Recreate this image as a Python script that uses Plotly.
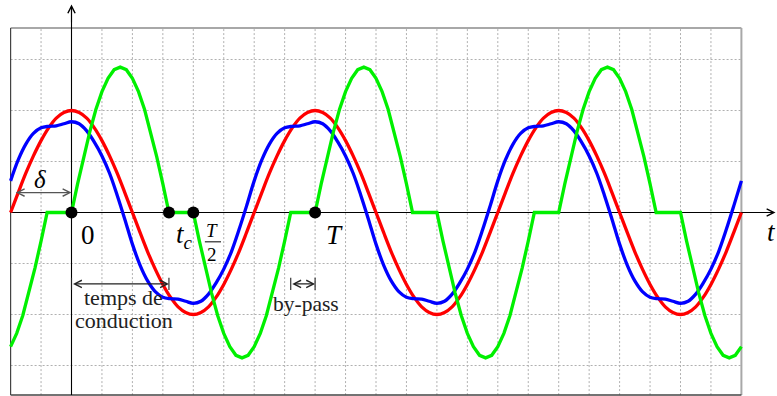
import plotly.graph_objects as go

# time in grid steps (one step = T/8), values in grid units
T_RB = [-2.0, -1.75, -1.5, -1.25, -1.0, -0.75, -0.5, -0.25,
        0.0, 0.25, 0.5, 0.75, 1.0, 1.25, 1.5, 1.75,
        2.0, 2.25, 2.5, 2.75, 3.0, 3.25, 3.5, 3.75,
        4.0, 4.25, 4.5, 4.75, 5.0, 5.25, 5.5, 5.75,
        6.0, 6.25, 6.5, 6.75, 7.0, 7.25, 7.5, 7.75,
        8.0, 8.25, 8.5, 8.75, 9.0, 9.25, 9.5, 9.75,
        10.0, 10.25, 10.5, 10.75, 11.0, 11.25, 11.5, 11.75,
        12.0, 12.25, 12.5, 12.75, 13.0, 13.25, 13.5, 13.75,
        14.0, 14.25, 14.5, 14.75, 15.0, 15.25, 15.5, 15.75,
        16.0, 16.25, 16.5, 16.75, 17.0, 17.25, 17.5, 17.75,
        18.0, 18.25, 18.5, 18.75, 19.0, 19.25, 19.5, 19.75,
        20.0, 20.25, 20.5, 20.75, 21.0, 21.25, 21.5, 21.75,
        22.0]

# red : source voltage
RED = [0.0, 0.39, 0.77, 1.11, 1.41, 1.66, 1.85, 1.96,
       2.0, 1.96, 1.85, 1.66, 1.41, 1.11, 0.77, 0.39,
       0.0, -0.39, -0.77, -1.11, -1.41, -1.66, -1.85, -1.96,
       -2.0, -1.96, -1.85, -1.66, -1.41, -1.11, -0.77, -0.39,
       0.0, 0.39, 0.77, 1.11, 1.41, 1.66, 1.85, 1.96,
       2.0, 1.96, 1.85, 1.66, 1.41, 1.11, 0.77, 0.39,
       0.0, -0.39, -0.77, -1.11, -1.41, -1.66, -1.85, -1.96,
       -2.0, -1.96, -1.85, -1.66, -1.41, -1.11, -0.77, -0.39,
       0.0, 0.39, 0.77, 1.11, 1.41, 1.66, 1.85, 1.96,
       2.0, 1.96, 1.85, 1.66, 1.41, 1.11, 0.77, 0.39,
       0.0, -0.39, -0.77, -1.11, -1.41, -1.66, -1.85, -1.96,
       -2.0, -1.96, -1.85, -1.66, -1.41, -1.11, -0.77, -0.39,
       0.0]

# blue : distorted voltage
BLUE = [0.62, 1.03, 1.34, 1.55, 1.66, 1.69, 1.70, 1.74,
        1.78, 1.74, 1.60, 1.38, 1.11, 0.77, 0.34, -0.13,
        -0.62, -1.03, -1.34, -1.55, -1.66, -1.69, -1.70, -1.74,
        -1.78, -1.74, -1.60, -1.38, -1.11, -0.77, -0.34, 0.13,
        0.62, 1.03, 1.34, 1.55, 1.66, 1.69, 1.70, 1.74,
        1.78, 1.74, 1.60, 1.38, 1.11, 0.77, 0.34, -0.13,
        -0.62, -1.03, -1.34, -1.55, -1.66, -1.69, -1.70, -1.74,
        -1.78, -1.74, -1.60, -1.38, -1.11, -0.77, -0.34, 0.13,
        0.62, 1.03, 1.34, 1.55, 1.66, 1.69, 1.70, 1.74,
        1.78, 1.74, 1.60, 1.38, 1.11, 0.77, 0.34, -0.13,
        -0.62, -1.03, -1.34, -1.55, -1.66, -1.69, -1.70, -1.74,
        -1.78, -1.74, -1.60, -1.38, -1.11, -0.77, -0.34, 0.13,
        0.62]

T_G = [-2.0, -1.8, -1.6, -1.4, -1.2, -1.0, -0.8, -0.6, -0.4, -0.2,
       0.0, 0.2, 0.4, 0.6, 0.8, 1.0, 1.2, 1.4, 1.6, 1.8,
       2.0, 2.2, 2.4, 2.6, 2.8, 3.0, 3.2, 3.4, 3.6, 3.8,
       4.0, 4.2, 4.4, 4.6, 4.8, 5.0, 5.2, 5.4, 5.6, 5.8,
       6.0, 6.2, 6.4, 6.6, 6.8, 7.0, 7.2, 7.4, 7.6, 7.8,
       8.0, 8.2, 8.4, 8.6, 8.8, 9.0, 9.2, 9.4, 9.6, 9.8,
       10.0, 10.2, 10.4, 10.6, 10.8, 11.0, 11.2, 11.4, 11.6, 11.8,
       12.0, 12.2, 12.4, 12.6, 12.8, 13.0, 13.2, 13.4, 13.6, 13.8,
       14.0, 14.2, 14.4, 14.6, 14.8, 15.0, 15.2, 15.4, 15.6, 15.8,
       16.0, 16.2, 16.4, 16.6, 16.8, 17.0, 17.2, 17.4, 17.6, 17.8,
       18.0, 18.2, 18.4, 18.6, 18.8, 19.0, 19.2, 19.4, 19.6, 19.8,
       20.0, 20.2, 20.4, 20.6, 20.8, 21.0, 21.2, 21.4, 21.6, 21.8,
       22.0]

# green : current (conduction lobes + by-pass)
GREEN = [-2.63, -2.37, -2.02, -1.58, -1.09, -0.56, 0, 0, 0, 0,
         0, 0.56, 1.09, 1.58, 2.02, 2.37, 2.63, 2.80, 2.85, 2.80,
         2.63, 2.37, 2.02, 1.58, 1.09, 0.56, 0, 0, 0, 0,
         0, -0.56, -1.09, -1.58, -2.02, -2.37, -2.63, -2.80, -2.85, -2.80,
         -2.63, -2.37, -2.02, -1.58, -1.09, -0.56, 0, 0, 0, 0,
         0, 0.56, 1.09, 1.58, 2.02, 2.37, 2.63, 2.80, 2.85, 2.80,
         2.63, 2.37, 2.02, 1.58, 1.09, 0.56, 0, 0, 0, 0,
         0, -0.56, -1.09, -1.58, -2.02, -2.37, -2.63, -2.80, -2.85, -2.80,
         -2.63, -2.37, -2.02, -1.58, -1.09, -0.56, 0, 0, 0, 0,
         0, 0.56, 1.09, 1.58, 2.02, 2.37, 2.63, 2.80, 2.85, 2.80,
         2.63, 2.37, 2.02, 1.58, 1.09, 0.56, 0, 0, 0, 0,
         0, -0.56, -1.09, -1.58, -2.02, -2.37, -2.63, -2.80, -2.85, -2.80,
         -2.63]

TC = 3.2
HALF_T = 4
PERIOD = 8
DELTA_START = -1.88
DOT_T = [0, TC, HALF_T, PERIOD]

GRID_U = [u for u in range(-1, 22) if u != 0]
GRID_V = [-3, -2, -1, 1, 2, 3]
X0, X1 = -2, 22
Y0, Y1 = -3.58, 3.62

fig = go.Figure()

fig.add_trace(go.Scatter(x=T_RB, y=RED, mode='lines', hoverinfo='skip',
                         line=dict(color='#ff0000', width=3.3, shape='spline')))
fig.add_trace(go.Scatter(x=T_RB, y=BLUE, mode='lines', hoverinfo='skip',
                         line=dict(color='#0000ff', width=3.3, shape='spline')))
fig.add_trace(go.Scatter(x=T_G, y=GREEN, mode='lines', hoverinfo='skip',
                         line=dict(color='#00f000', width=3.3)))
fig.add_trace(go.Scatter(x=DOT_T, y=[0] * len(DOT_T), mode='markers', hoverinfo='skip',
                         marker=dict(color='black', size=12)))

shapes = []
grid = dict(color='#b0b0b0', width=1, dash='2px,2px')
for u in GRID_U:
    shapes.append(dict(type='line', x0=u, x1=u, y0=Y0, y1=Y1, layer='below', line=grid))
for v in GRID_V:
    shapes.append(dict(type='line', x0=X0, x1=X1, y0=v, y1=v, layer='below', line=grid))

# frame
shapes.append(dict(type='line', x0=X0, x1=X1, y0=Y1, y1=Y1, layer='below', line=dict(color='#a8a8a8', width=2)))
shapes.append(dict(type='line', x0=X1, x1=X1, y0=Y0, y1=Y1, layer='below', line=dict(color='#a8a8a8', width=2)))
shapes.append(dict(type='line', x0=X0, x1=X0, y0=Y0, y1=Y1, layer='below', line=dict(color='#444444', width=1.2)))
shapes.append(dict(type='line', x0=X0, x1=X1, y0=Y0, y1=Y0, layer='below', line=dict(color='#444444', width=1.5)))

# axes
shapes.append(dict(type='line', x0=X0, x1=23.0, y0=0, y1=0, layer='below', line=dict(color='black', width=1.1)))
shapes.append(dict(type='line', x0=0, x1=0, y0=Y0, y1=4.0, layer='below', line=dict(color='black', width=1.1)))

# bars of the |<->| arrows
bar_y = -1.40
for u in [0, TC, PERIOD - (HALF_T - TC), PERIOD]:
    shapes.append(dict(type='line', x0=u, x1=u, y0=bar_y - 0.12, y1=bar_y + 0.12,
                       line=dict(color='#222222', width=1.1)))
# fraction bar of T/2
shapes.append(dict(type='line', x0=4.38, x1=4.91, y0=-0.575, y1=-0.575, line=dict(color='black', width=1)))

annotations = []


def arrow(x, y, ax, ay, color='black', both=False):
    a = dict(x=x, y=y, ax=ax, ay=ay, xref='x', yref='y', axref='x', ayref='y', text='',
             showarrow=True, arrowhead=5, arrowsize=1.3, arrowwidth=1.1, arrowcolor=color,
             standoff=0, startstandoff=0)
    if both:
        a['arrowside'] = 'end+start'
        a['startarrowhead'] = 5
        a['startarrowsize'] = 1.3
    annotations.append(a)


arrow(23.12, 0, 22.6, 0)
arrow(0, 4.08, 0, 3.7)
arrow(0, 0.39, DELTA_START, 0.39, color='#555555', both=True)
arrow(TC, bar_y, 0, bar_y, color='#222222', both=True)
arrow(PERIOD, bar_y, PERIOD - (HALF_T - TC), bar_y, color='#222222', both=True)

serif = 'Liberation Serif'


def label(x, y, text, size, color='black'):
    annotations.append(dict(x=x, y=y, xref='x', yref='y', text=text, showarrow=False,
                            xanchor='center', yanchor='middle',
                            font=dict(family=serif, size=size, color=color)))


label(0.54, -0.44, '0', 27)
label(3.72, -0.47, '<i>t<sub>c</sub></i>', 27)
label(4.63, -0.36, '<i>T</i>', 19)
label(4.63, -0.82, '2', 19)
label(8.64, -0.44, '<i>T</i>', 27)
label(-1.03, 0.65, '<i>δ</i>', 25)
label(1.72, -1.67, 'temps de', 22, '#222222')
label(1.72, -2.12, 'conduction', 22, '#222222')
label(7.69, -1.79, 'by-pass', 21.5, '#222222')

# axis name at the right edge of the page
annotations.append(dict(x=1, y=-0.38, xref='paper', yref='y', text='<i>t</i>', showarrow=False,
                        xanchor='right', yanchor='middle', xshift=1,
                        font=dict(family=serif, size=27, color='black')))

fig.update_layout(
    width=777, height=396,
    margin=dict(l=0, r=0, t=0, b=0),
    showlegend=False,
    paper_bgcolor='white',
    plot_bgcolor='white',
    xaxis=dict(visible=False, range=[-2.348, 23.169]),
    yaxis=dict(visible=False, range=[-3.598, 4.167]),
    shapes=shapes,
    annotations=annotations,
)

# drop the default page margin so the figure fills the window exactly
fig.write_html("out.html", config={'displayModeBar': False},
               post_script="document.body.style.margin='0';document.body.style.overflow='hidden';")
